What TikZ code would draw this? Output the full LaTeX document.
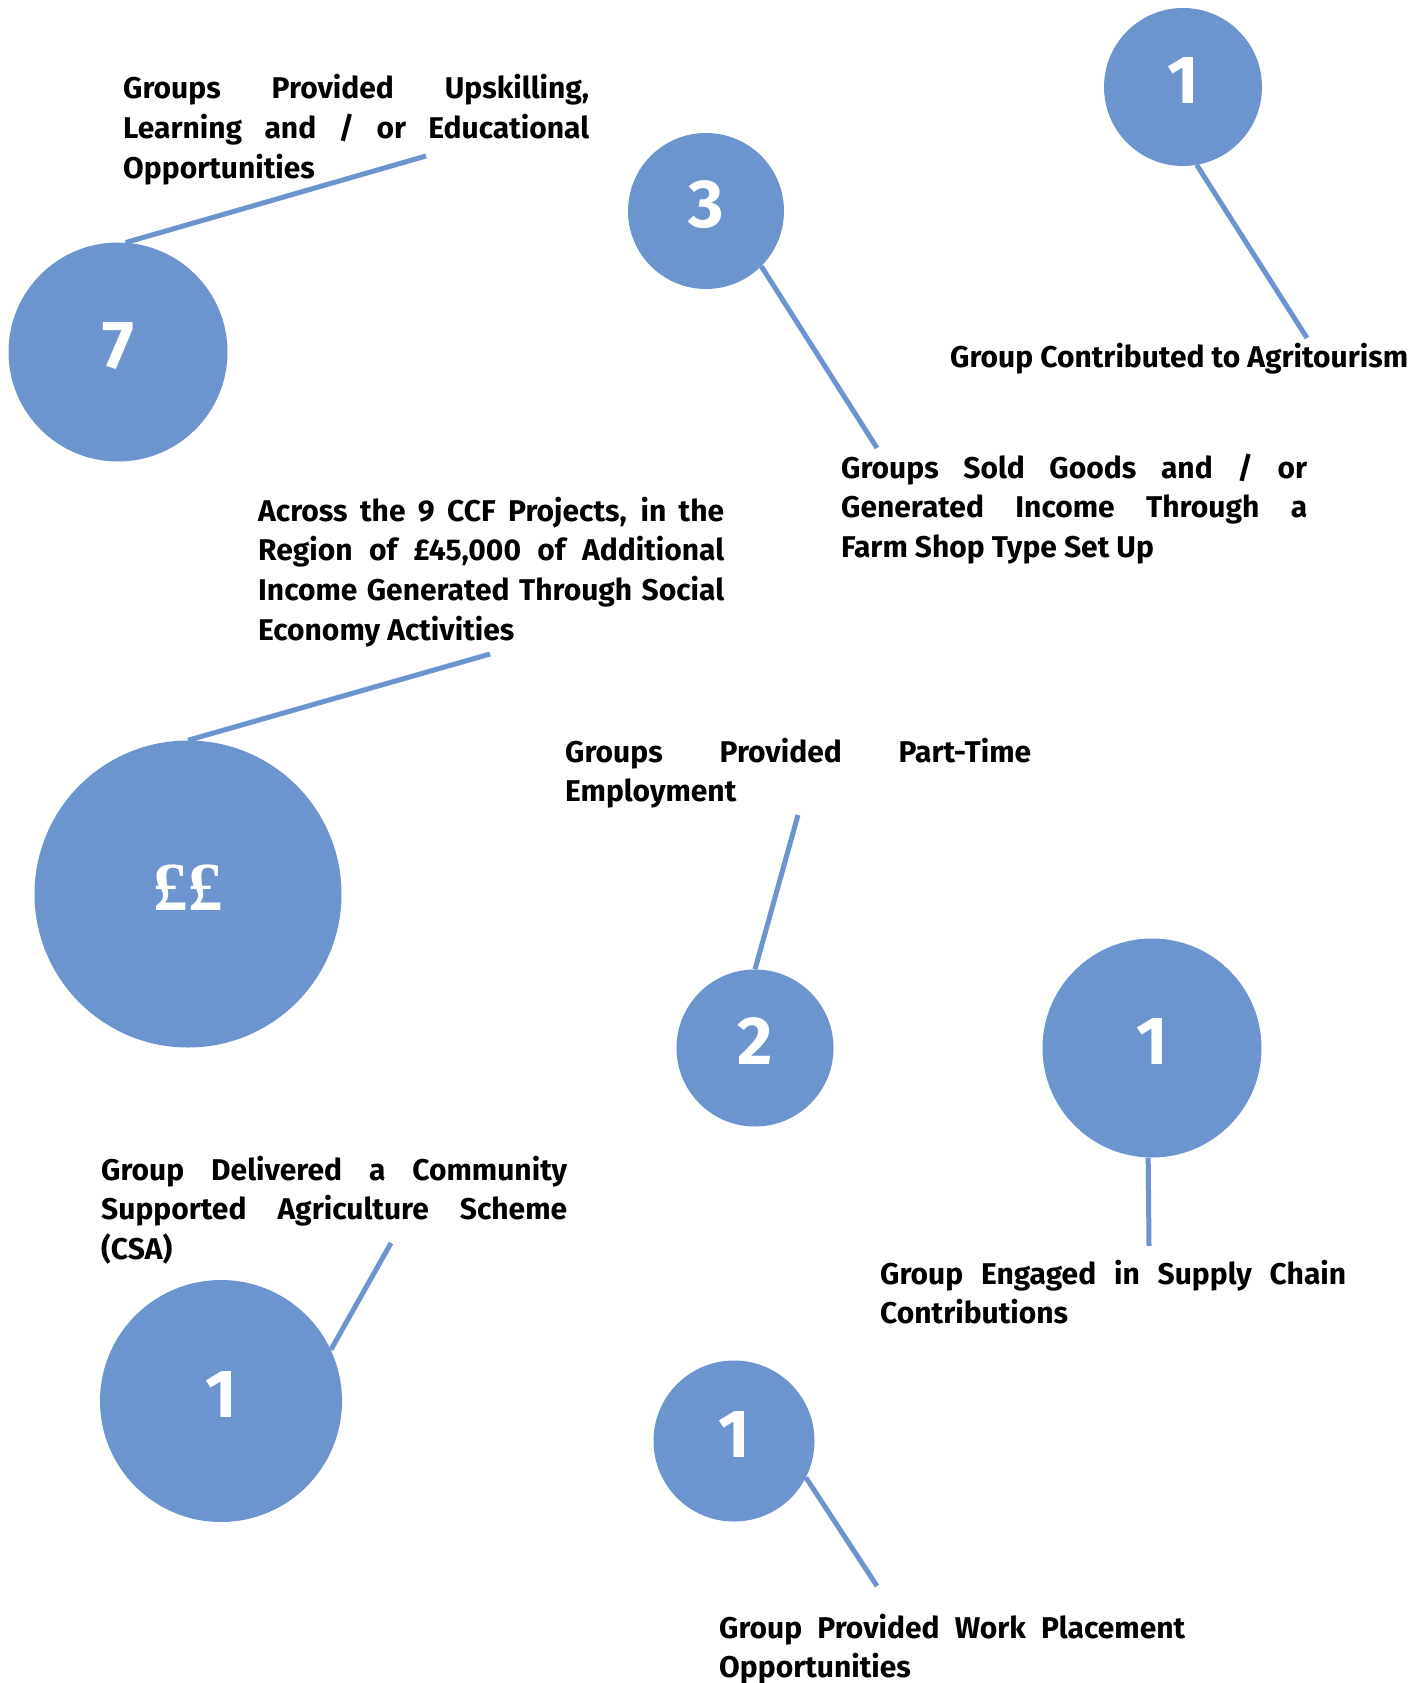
\documentclass[tikz,border=0pt]{standalone}
\usepackage{fontspec}
\setmainfont{Fira Sans}
\newfontfamily\poundfont{Liberation Serif}
\tolerance=10000
\hbadness=10000
\hfuzz=40pt
\hyphenpenalty=10000
\exhyphenpenalty=10000
\definecolor{bubbleblue}{RGB}{108,149,208}
\tikzset{
  bubble/.style={circle, fill=bubbleblue, inner sep=0pt, minimum size=#1,
    text=white, font=\fontsize{68}{68}\selectfont\bfseries,
    text height=47pt, text depth=14pt},
  lbl/.style={inner sep=0pt, anchor=base west, text width=466pt, align=justify,
    font=\fontsize{30}{39.7}\selectfont\bfseries},
  single/.style={inner sep=0pt, anchor=base west,
    font=\fontsize{30}{39.7}\selectfont\bfseries},
  leader/.style={draw=bubbleblue, line width=5pt},
}
\begin{document}
\begin{tikzpicture}[x=1pt, y=-1pt]
\useasboundingbox (0,0) rectangle (1420,1683);
\fill[white] (0,0) rectangle (1420,1683);

% bubbles
\node[bubble=158pt] (agri)   at (1183,87)   {1};
\node[bubble=156pt] (sold)   at (706,211)   {3};
\node[bubble=219pt] (learn)  at (118,352)   {7};
\node[bubble=307pt, font=\fontsize{69}{69}\selectfont\poundfont\bfseries] (money) at (188,894) {££};
\node[bubble=157pt] (part)   at (755,1048)  {2};
\node[bubble=219pt] (supply) at (1152,1048) {1};
\node[bubble=242pt] (csa)    at (221,1401)  {1};
\node[bubble=161pt] (work)   at (734,1441)  {1};

% labels
\node[lbl] (tlearn) at (123,99)
  {Groups Provided Upskilling,\linebreak Learning and / or Educational\linebreak Opportunities};
\node[single] (tagri) at (950,367) {Group Contributed to Agritourism};
\node[lbl] (tsold) at (841,478)
  {Groups Sold Goods and / or\linebreak Generated Income Through a\linebreak Farm Shop Type Set Up};
\node[lbl] (tmoney) at (258,521)
  {Across the 9 CCF Projects, in the\linebreak Region of £45,000 of Additional\linebreak Income Generated Through Social\linebreak Economy Activities};
\node[lbl] (tpart) at (565,762)
  {Groups Provided Part-Time\linebreak Employment};
\node[lbl] (tsupply) at (880,1284)
  {Group Engaged in Supply Chain\linebreak Contributions};
\node[lbl] (tcsa) at (101,1180)
  {Group Delivered a Community\linebreak Supported Agriculture Scheme\linebreak (CSA)};
\node[lbl] (twork) at (719,1638)
  {Group Provided Work Placement\linebreak Opportunities};

% leader line ends
\coordinate (eagri)   at (1307,338);
\coordinate (esold)   at (877,448);
\coordinate (elearn)  at (426,156);
\coordinate (emoney)  at (490,654);
\coordinate (epart)   at (798,815);
\coordinate (esupply) at (1149,1246);
\coordinate (ecsa)    at (391,1243);
\coordinate (ework)   at (877,1586);

% leader lines
\draw[leader] (agri.-80)   -- (eagri);
\draw[leader] (sold.-45)   -- (esold);
\draw[leader] (learn.86)   -- (elearn);
\draw[leader] (money.90)   -- (emoney);
\draw[leader] (part.90)    -- (epart);
\draw[leader] (supply.-92) -- (esupply);
\draw[leader] (csa.25)     -- (ecsa);
\draw[leader] (work.-27)   -- (ework);
\end{tikzpicture}
\end{document}
